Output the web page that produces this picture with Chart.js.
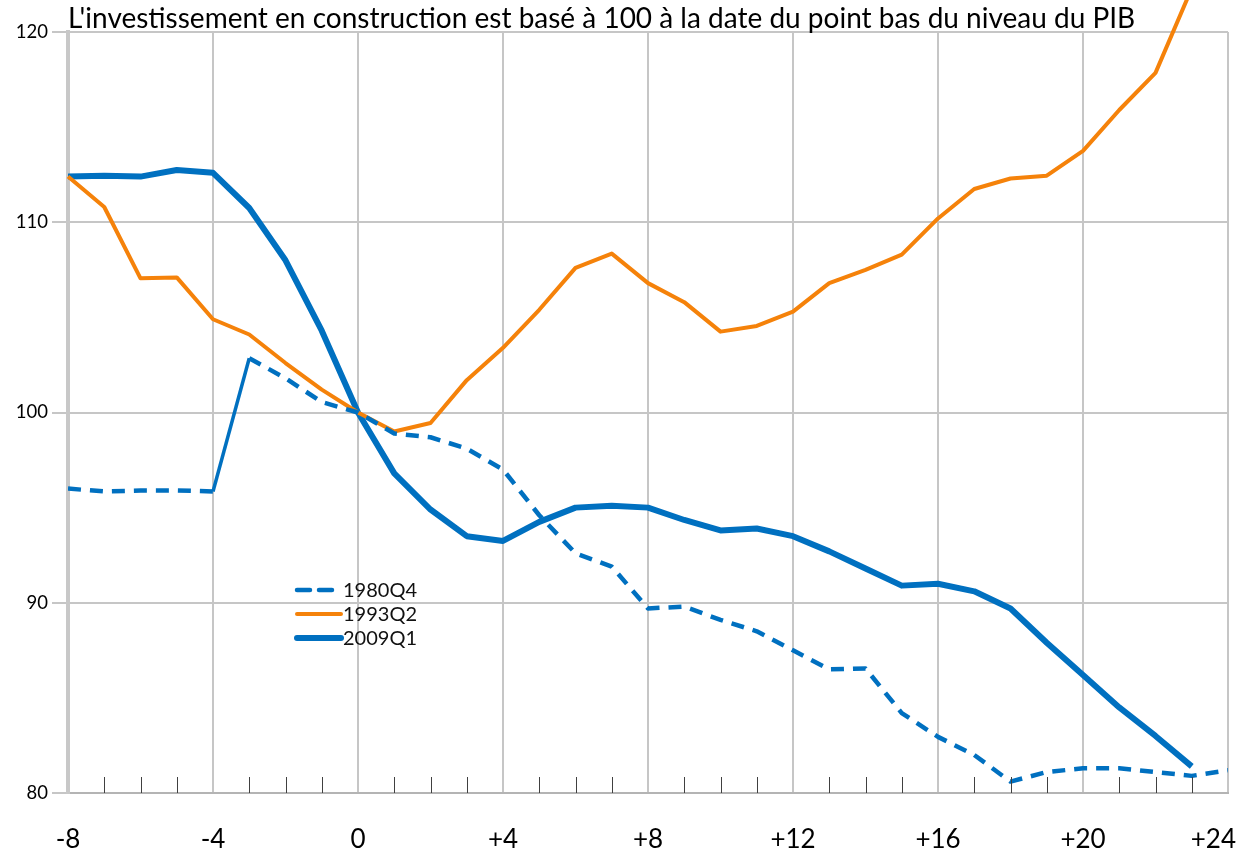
<!DOCTYPE html>
<html lang="fr">
<head>
    <meta charset="UTF-8">
    <title>Investissement en construction</title>
    <script src="https://cdn.jsdelivr.net/npm/chart.js"></script>
    <style>
        body { margin: 0; background: #fff; }
        canvas { display: block; }
    </style>
</head>
<body>
    <canvas id="chart" width="1240" height="858"></canvas>
    <script>
        // Trimestres autour du point bas du PIB
        var quarters = [-8, -7, -6, -5, -4, -3, -2, -1, 0, 1, 2, 3, 4, 5, 6, 7, 8, 9, 10, 11, 12,
                        13, 14, 15, 16, 17, 18, 19, 20, 21, 22, 23, 24];

        var serie1980 = [96.0, 95.85, 95.9, 95.9, 95.85, 102.85, 101.8, 100.55, 100, 98.9, 98.7, 98.1, 97.0,
                         94.6, 92.6, 91.9, 89.7, 89.8, 89.1, 88.5, 87.5, 86.5, 86.55, 84.2, 82.95, 82.0,
                         80.6, 81.1, 81.3, 81.3, 81.1, 80.9, 81.2];
        var serie1993 = [112.4, 110.8, 107.05, 107.1, 104.9, 104.1, 102.6, 101.2, 100, 99.0, 99.45, 101.7, 103.4,
                         105.4, 107.6, 108.35, 106.8, 105.8, 104.25, 104.55, 105.3, 106.8, 107.5, 108.3, 110.2,
                         111.75, 112.3, 112.45, 113.75, 115.9, 117.85, 122.3, null];
        var serie2009 = [112.4, 112.45, 112.4, 112.75, 112.6, 110.75, 108.0, 104.3, 100, 96.8, 94.9, 93.5, 93.25,
                         94.25, 95.0, 95.1, 95.0, 94.35, 93.8, 93.9, 93.5, 92.7, 91.8, 90.9, 91.0, 90.6,
                         89.7, 87.9, 86.2, 84.5, 83.0, 81.4, null];

        var yTicks = [80, 90, 100, 110, 120];
        var titre = "L'investissement en construction est basé à 100 à la date du point bas du niveau du PIB";

        // le saut de -4 à -3 de la série 1980Q4 est en trait plein
        var sautPlein = -4;

        var bleu = '#0070c0';
        var orange = '#f5820a';
        var police = 'Lato, "Open Sans", sans-serif';

        function points(values) {
            return quarters.map(function (q, i) { return { x: q, y: values[i] }; });
        }

        function etiquette(v) {
            return v > 0 ? '+' + v : String(v);
        }

        // graduations intérieures, étiquettes de l'axe x, titre, légende
        var decor = {
            id: 'decor',
            afterDatasetsDraw: function (chart) {
                var ctx = chart.ctx;
                var area = chart.chartArea;
                var xs = chart.scales.x;
                ctx.save();
                ctx.strokeStyle = '#404040';
                ctx.lineWidth = 1;
                for (var q = xs.min + 1; q < xs.max; q++) {
                    if (q % 4 === 0) continue;
                    var px = Math.round(xs.getPixelForValue(q)) + 0.5;
                    ctx.beginPath();
                    ctx.moveTo(px, area.bottom);
                    ctx.lineTo(px, area.bottom - 16);
                    ctx.stroke();
                }

                // étiquettes x, gardées dans le canevas
                ctx.fillStyle = '#000';
                ctx.font = '26px ' + police;
                ctx.textAlign = 'center';
                ctx.textBaseline = 'middle';
                xs.ticks.forEach(function (t) {
                    var txt = etiquette(t.value);
                    var w = ctx.measureText(txt).width;
                    var cx = Math.min(xs.getPixelForValue(t.value), chart.width - 4 - w / 2);
                    ctx.fillText(txt, cx, area.bottom + 47);
                });

                // titre
                ctx.font = '28px ' + police;
                ctx.textBaseline = 'alphabetic';
                ctx.textAlign = 'left';
                ctx.fillText(titre, area.left, 28);

                // légende
                var lx = 297, ly = 590;
                ctx.font = '20px ' + police;
                ctx.textBaseline = 'middle';
                chart.data.datasets.forEach(function (ds, i) {
                    var y = ly + i * 24;
                    ctx.beginPath();
                    ctx.strokeStyle = ds.borderColor;
                    ctx.lineWidth = ds.borderWidth;
                    ctx.lineCap = 'round';
                    ctx.setLineDash(ds.borderDash || []);
                    ctx.moveTo(lx, y);
                    ctx.lineTo(lx + 44, y);
                    ctx.stroke();
                    ctx.setLineDash([]);
                    ctx.fillStyle = '#111';
                    ctx.fillText(ds.label, lx + 46, y + 1);
                });
                ctx.restore();
            }
        };

        var chart = new Chart(document.getElementById('chart').getContext('2d'), {
            type: 'line',
            data: {
                datasets: [{
                    label: '1980Q4',
                    data: points(serie1980),
                    borderColor: bleu,
                    borderWidth: 4.5,
                    borderDash: [13, 9],
                    segment: {
                        borderDash: function (c) { return quarters[c.p0DataIndex] === sautPlein ? [] : undefined; },
                        borderWidth: function (c) { return quarters[c.p0DataIndex] === sautPlein ? 3.5 : undefined; }
                    }
                }, {
                    label: '1993Q2',
                    data: points(serie1993),
                    borderColor: orange,
                    borderWidth: 4,
                    clip: false
                }, {
                    label: '2009Q1',
                    data: points(serie2009),
                    borderColor: bleu,
                    borderWidth: 6
                }]
            },
            options: {
                responsive: false,
                animation: false,
                layout: { padding: { top: 32, right: 12, left: 0, bottom: 0 } },
                elements: {
                    point: { radius: 0 },
                    line: { tension: 0, fill: false, borderJoinStyle: 'round' }
                },
                plugins: {
                    legend: { display: false },
                    tooltip: { enabled: false }
                },
                scales: {
                    x: {
                        type: 'linear',
                        min: quarters[0],
                        max: quarters[quarters.length - 1],
                        afterFit: function (s) {
                            s.height = 65;
                            s.paddingLeft = 0;
                            s.paddingRight = 0;
                        },
                        border: { color: '#b4b4b4', width: 2 },
                        grid: { color: '#c6c6c6', lineWidth: 2, drawTicks: false },
                        ticks: {
                            stepSize: 4,
                            display: false
                        }
                    },
                    y: {
                        min: yTicks[0],
                        max: yTicks[yTicks.length - 1],
                        afterFit: function (s) {
                            s.width = 68;
                            s.paddingTop = 0;
                            s.paddingBottom = 0;
                        },
                        border: { color: '#c8c8c8', width: 4 },
                        grid: { color: '#c6c6c6', lineWidth: 2, tickLength: 16 },
                        ticks: {
                            stepSize: 10,
                            padding: 4,
                            color: '#000',
                            font: { family: police, size: 18.5 }
                        }
                    }
                }
            },
            plugins: [decor]
        });
    </script>
</body>
</html>
